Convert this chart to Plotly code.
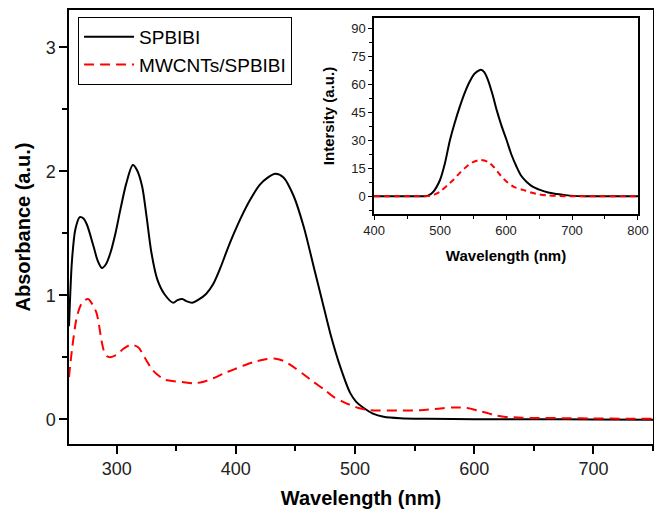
import plotly.graph_objects as go

# ---------------- main absorbance data ----------------
wl_spbibi = [260, 262.5, 265.3, 269, 272, 275, 280.7, 284, 287.6, 291, 294.7, 299, 303.1, 308,
             313.5, 317, 321.3, 325, 329.2, 334, 340, 347.4, 351, 355, 359, 363.4, 368, 375,
             381, 387, 392.5, 398, 405, 412, 420, 427, 433, 440, 448.5, 457, 465.3, 472.3,
             479.3, 487.7, 496, 501, 507.3, 515, 524, 538, 560, 600, 650, 700, 750]
abs_spbibi = [0.75, 1.28, 1.53, 1.63, 1.62, 1.57, 1.39, 1.28, 1.22, 1.25, 1.34, 1.50, 1.69, 1.90,
              2.05, 2.01, 1.88, 1.64, 1.34, 1.13, 1.01, 0.94, 0.96, 0.97, 0.95, 0.94, 0.96, 1.01,
              1.09, 1.22, 1.36, 1.49, 1.64, 1.77, 1.89, 1.95, 1.98, 1.95, 1.80, 1.55, 1.23, 0.96,
              0.69, 0.42, 0.21, 0.14, 0.09, 0.045, 0.02, 0.008, 0.003, 0.0, 0.0, -0.003, -0.005]

wl_mwcnt = [260, 262.5, 266.7, 271, 276, 280, 283, 285, 287, 289, 291.5, 294.7, 300, 306, 312,
            318, 324, 329, 334, 340, 345, 355, 364.5, 372, 381, 390, 398, 406, 414.6, 423, 432,
            440, 448.5, 457, 465.3, 474, 482, 490, 496, 503, 510, 520, 540, 555, 570, 582, 594,
            603, 611, 618, 625, 640, 653, 680, 700, 730, 750]
abs_mwcnt = [0.34, 0.56, 0.83, 0.94, 0.97, 0.92, 0.86, 0.77, 0.65, 0.56, 0.51, 0.50, 0.52, 0.57, 0.60,
             0.58, 0.49, 0.41, 0.36, 0.32, 0.31, 0.30, 0.29, 0.30, 0.33, 0.37, 0.40, 0.43, 0.46, 0.48, 0.49,
             0.47, 0.42, 0.36, 0.30, 0.24, 0.18, 0.14, 0.115, 0.09, 0.075, 0.07, 0.07, 0.073, 0.085, 0.095, 0.09,
             0.07, 0.05, 0.03, 0.02, 0.012, 0.01, 0.008, 0.006, 0.004, 0.003]

# ---------------- inset PL data ----------------
pl_wl_spbibi = [400, 420, 440, 460, 475, 482, 490, 500, 507, 515, 522, 530, 537, 545, 552, 556,
                562, 567, 573, 580, 586, 593, 601, 608, 616, 623, 631, 641, 651.5, 664, 677, 690,
                702, 720, 760, 800]
pl_spbibi = [0, 0, 0, 0, 0, 0.3, 2.5, 8.7, 17, 30, 39, 48, 55, 61.5, 65.5, 66.8,
             67.8, 66.5, 62, 54, 46, 38, 30, 22.5, 15.8, 11, 7.8, 5, 3.4, 2, 1.2, 0.6,
             0.2, 0, 0, 0]

pl_wl_mwcnt = [400, 440, 470, 485, 492, 500, 510, 520, 530, 540, 550, 562, 572, 581, 591, 601,
               612, 626, 638, 651, 665, 676, 700, 800]
pl_mwcnt = [0, 0, 0, 0.2, 1, 2.5, 5.5, 8.7, 12.5, 15.8, 18.3, 19.4, 18.5, 15.8, 11.5, 7.8,
            5, 3.4, 2, 1, 0.4, 0.2, 0, 0]

main_ticks = [300, 400, 500, 600, 700]
abs_ticks = [0, 1, 2, 3]
pl_x_ticks = [400, 500, 600, 700, 800]
pl_y_ticks = [0, 15, 30, 45, 60, 75, 90]

FONT = "Arial, 'Liberation Sans', sans-serif"
RED = "#ff0000"

fig = go.Figure()
fig.add_trace(go.Scatter(x=wl_spbibi, y=abs_spbibi, mode="lines", name="SPBIBI",
                         line=dict(color="black", width=2, shape="spline", smoothing=0.8)))
fig.add_trace(go.Scatter(x=wl_mwcnt, y=abs_mwcnt, mode="lines", name="MWCNTs/SPBIBI",
                         line=dict(color=RED, width=2, dash="10px,6px", shape="spline", smoothing=0.8)))
fig.add_trace(go.Scatter(x=pl_wl_spbibi, y=pl_spbibi, mode="lines", showlegend=False,
                         xaxis="x2", yaxis="y2",
                         line=dict(color="black", width=2, shape="spline", smoothing=0.8)))
fig.add_trace(go.Scatter(x=pl_wl_mwcnt, y=pl_mwcnt, mode="lines", showlegend=False,
                         xaxis="x2", yaxis="y2",
                         line=dict(color=RED, width=2, dash="6px,4px", shape="spline", smoothing=0.8)))

axis_common = dict(showline=True, linecolor="black", linewidth=1.5, mirror=True, automargin=False,
                   ticks="outside", tickcolor="black", showgrid=False, zeroline=False)

fig.update_layout(
    template="none",
    width=654, height=509,
    margin=dict(l=69, r=1, t=10, b=65, autoexpand=False),
    paper_bgcolor="white", plot_bgcolor="white",
    font=dict(family=FONT, color="#222222"),
    xaxis=dict(**axis_common, range=[260, 750], tickvals=main_ticks, ticklen=8, tickwidth=1.5,
               minor=dict(ticks="outside", dtick=50, tick0=0, ticklen=5, tickcolor="black", tickwidth=1.5),
               tickfont=dict(size=18),
               title=dict(text="Wavelength (nm)", font=dict(size=20, weight="bold", color="black"),
                          standoff=14)),
    yaxis=dict(**axis_common, range=[-0.2, 3.3], tickvals=abs_ticks, ticklen=8, tickwidth=1.5,
               minor=dict(ticks="outside", dtick=0.5, tick0=0, ticklen=5, tickcolor="black", tickwidth=1.5),
               tickfont=dict(size=18),
               title=dict(text="Absorbance (a.u.)", font=dict(size=20, weight="bold", color="black"),
                          standoff=10)),
    xaxis2=dict(**axis_common, domain=[0.5223, 0.9743], anchor="y2", range=[400, 800],
                tickvals=pl_x_ticks, ticklen=4, tickwidth=1,
                minor=dict(ticks="outside", dtick=50, tick0=0, ticklen=3, tickcolor="black"),
                tickfont=dict(size=13),
                title=dict(text="Wavelength (nm)", font=dict(size=15, weight="bold", color="black"),
                           standoff=13)),
    yaxis2=dict(**axis_common, domain=[0.53, 0.9816], anchor="x2", range=[-9.5, 95.5],
                tickvals=pl_y_ticks, ticklen=4, tickwidth=1,
                minor=dict(ticks="outside", dtick=7.5, tick0=0, ticklen=3, tickcolor="black"),
                tickfont=dict(size=13),
                title=dict(text="Intersity (a.u.)", font=dict(size=15, weight="bold", color="black"),
                           standoff=13)),
    legend=dict(x=0.0155, y=0.984, xanchor="left", yanchor="top",
                bordercolor="black", borderwidth=1, bgcolor="white",
                font=dict(size=19, color="black"), itemwidth=50),
    showlegend=True,
)

fig.write_html("out.html")
